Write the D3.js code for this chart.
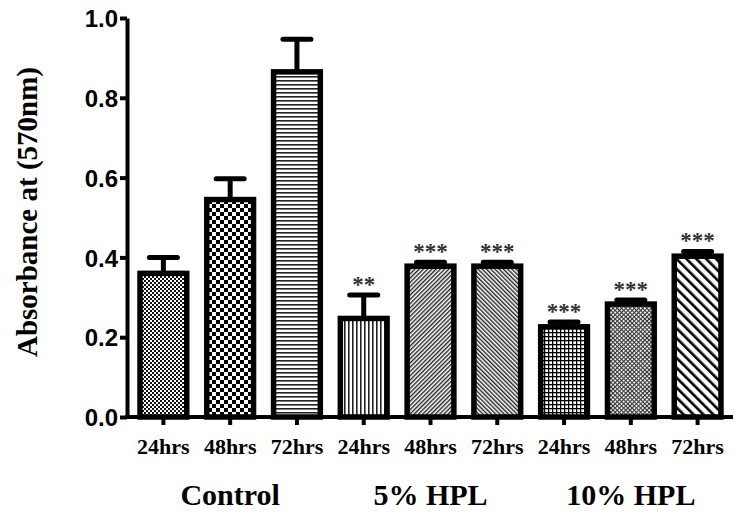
<!DOCTYPE html>
<html>
<head>
<meta charset="utf-8">
<script src="https://cdn.jsdelivr.net/npm/d3@7"></script>
<style>
  body { margin: 0; background: #fff; }
  svg { display: block; }
</style>
</head>
<body>
<div id="chart"></div>
<script>
const ticks = ["24hrs", "48hrs", "72hrs", "24hrs", "48hrs", "72hrs", "24hrs", "48hrs", "72hrs"];
const means = [0.36, 0.545, 0.865, 0.247, 0.378, 0.378, 0.226, 0.283, 0.403];
const errTop = [0.40, 0.597, 0.947, 0.306, 0.388, 0.388, 0.238, 0.293, 0.415];
const stars = ["", "", "", "**", "***", "***", "***", "***", "***"];
const groups = ["Control", "5% HPL", "10% HPL"];
const groupCenter = [1, 4, 7]; // index of middle bar
const yTicks = [0, 0.2, 0.4, 0.6, 0.8, 1.0];

const W = 738, H = 514;
const svg = d3.select("#chart").append("svg").attr("width", W).attr("height", H);

const x = d3.scaleBand().domain(d3.range(ticks.length)).range([130, 731])
  .paddingInner(0.3).paddingOuter(0.15);
const y = d3.scaleLinear().domain([0, 1]).range([417, 18]);

// patterns
const defs = svg.append("defs");
function pat(id, w, h, tf) {
  const p = defs.append("pattern").attr("id", id).attr("patternUnits", "userSpaceOnUse")
    .attr("width", w).attr("height", h);
  if (tf) p.attr("patternTransform", tf);
  p.append("rect").attr("width", w).attr("height", h).attr("fill", "#fff");
  return p;
}
let p;
p = pat("p0", 4, 4);
p.append("rect").attr("width", 2).attr("height", 2).attr("fill", "#111");
p.append("rect").attr("x", 2).attr("y", 2).attr("width", 2).attr("height", 2).attr("fill", "#111");
p = pat("p1", 8, 8);
p.append("rect").attr("width", 4).attr("height", 4).attr("fill", "#000");
p.append("rect").attr("x", 4).attr("y", 4).attr("width", 4).attr("height", 4).attr("fill", "#000");
p = pat("p2", 4, 4);
p.append("rect").attr("width", 4).attr("height", 1.6).attr("fill", "#222");
p = pat("p3", 4, 4);
p.append("rect").attr("width", 1.6).attr("height", 4).attr("fill", "#222");
p = pat("p4", 3, 3, "rotate(45)");
p.append("rect").attr("width", 1.4).attr("height", 3).attr("fill", "#222");
p = pat("p5", 3, 3, "rotate(-45)");
p.append("rect").attr("width", 1.4).attr("height", 3).attr("fill", "#222");
p = pat("p6", 4, 4);
p.append("rect").attr("width", 4).attr("height", 1.3).attr("fill", "#000");
p.append("rect").attr("width", 1.3).attr("height", 4).attr("fill", "#000");
p = pat("p7", 3, 3, "rotate(45)");
p.append("rect").attr("width", 3).attr("height", 1.1).attr("fill", "#333");
p.append("rect").attr("width", 1.1).attr("height", 3).attr("fill", "#333");
p = pat("p8", 7, 7, "rotate(-45)");
p.append("rect").attr("width", 2.6).attr("height", 7).attr("fill", "#000");

// bars
const bw = x.bandwidth();
svg.append("g").selectAll("rect").data(means).join("rect")
  .attr("x", (d, i) => x(i))
  .attr("y", d => y(d))
  .attr("width", bw)
  .attr("height", d => y(0) - y(d))
  .attr("fill", (d, i) => `url(#p${i})`)
  .attr("stroke", "#000")
  .attr("stroke-width", 5.5);

// error bars
const eb = svg.append("g").attr("stroke", "#000").attr("stroke-width", 5);
eb.selectAll("line.v").data(means).join("line").attr("class", "v")
  .attr("x1", (d, i) => x(i) + bw / 2).attr("x2", (d, i) => x(i) + bw / 2)
  .attr("y1", d => y(d)).attr("y2", (d, i) => y(errTop[i]));
eb.selectAll("line.c").data(errTop).join("line").attr("class", "c")
  .attr("x1", (d, i) => x(i) + bw / 2 - 14).attr("x2", (d, i) => x(i) + bw / 2 + 14)
  .attr("y1", d => y(d)).attr("y2", d => y(d))
  .attr("stroke-linecap", "round");

// stars
svg.append("g").selectAll("text").data(stars).join("text")
  .attr("x", (d, i) => x(i) + bw / 2)
  .attr("y", (d, i) => y(errTop[i]) - 3)
  .attr("text-anchor", "middle")
  .attr("font-family", "Liberation Serif, Times New Roman, serif")
  .attr("font-weight", "bold")
  .attr("font-size", 23)
  .attr("fill", "#333")
  .text(d => d);

// axes
const yAxis = svg.append("g").attr("transform", "translate(127,0)")
  .call(d3.axisLeft(y).tickValues(yTicks).tickFormat(d3.format(".1f")).tickSize(7).tickSizeOuter(0).tickPadding(2));
yAxis.select(".domain").attr("stroke-width", 4);
yAxis.selectAll(".tick line").attr("stroke-width", 4);
yAxis.selectAll("text").attr("font-family", "Liberation Sans, Arial, sans-serif")
  .attr("font-weight", "bold").attr("font-size", 24).attr("fill", "#000").attr("dy", "0.36em");

const xAxis = svg.append("g").attr("transform", "translate(0,417)")
  .call(d3.axisBottom(d3.scaleBand().domain(d3.range(ticks.length)).range(x.range())
    .paddingInner(0.3).paddingOuter(0.15)).tickFormat(i => ticks[i]).tickSize(8).tickSizeOuter(0).tickPadding(13));
xAxis.select(".domain").attr("d", "M125,0H733").attr("stroke-width", 4);
xAxis.selectAll(".tick line").attr("stroke-width", 4);
xAxis.selectAll("text").attr("font-family", "Liberation Serif, Times New Roman, serif")
  .attr("font-weight", "bold").attr("font-size", 22).attr("fill", "#000");

// group labels
svg.append("g").selectAll("text").data(groups).join("text")
  .attr("x", (d, i) => x(groupCenter[i]) + bw / 2)
  .attr("y", 505)
  .attr("text-anchor", "middle")
  .attr("font-family", "Liberation Serif, Times New Roman, serif")
  .attr("font-weight", "bold")
  .attr("font-size", 30)
  .text(d => d);

// y title
svg.append("text")
  .attr("transform", "translate(37,212) rotate(-90)")
  .attr("text-anchor", "middle")
  .attr("font-family", "Liberation Serif, Times New Roman, serif")
  .attr("font-weight", "bold")
  .attr("font-size", 29)
  .text("Absorbance at (570nm)");
</script>
</body>
</html>
